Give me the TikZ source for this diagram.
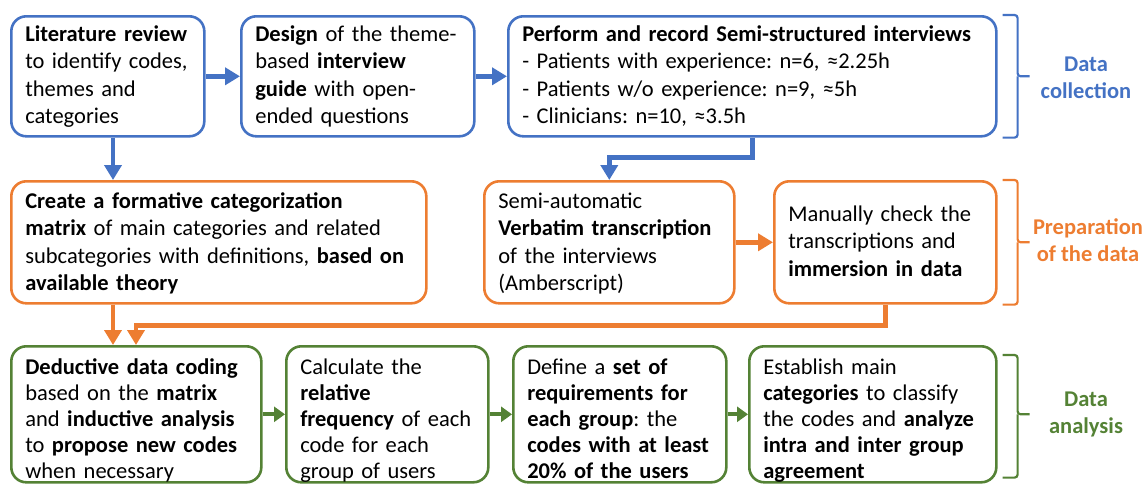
\documentclass[tikz,border=0pt]{standalone}
\usepackage{fontspec}
\setmainfont{Carlito}
\usetikzlibrary{arrows.meta}
\usetikzlibrary{positioning}
\definecolor{collect}{RGB}{68,114,196}
\definecolor{prep}{RGB}{237,125,49}
\definecolor{anal}{RGB}{84,130,53}
\newcommand{\stagefont}{\fontsize{22.5pt}{27.5pt}\selectfont\frenchspacing}
\newcommand{\lowfont}{\fontsize{22.5pt}{26pt}\selectfont\frenchspacing}
\newcommand{\phasefont}{\fontsize{22.5pt}{27pt}\selectfont}

\begin{document}
\begin{tikzpicture}[x=1pt,y=1pt,
	stage/.style={draw,fill=white,rounded corners=15pt,line width=2.6pt,
		align=left,anchor=north west,inner xsep=14pt,inner ysep=0pt,font=\stagefont},
	toprow/.style={stage,draw=collect,text height=25pt,text depth=95pt},
	midrow/.style={stage,draw=prep,text height=27pt,text depth=95pt},
	lowrow/.style={stage,draw=anal,text height=28pt,text depth=108pt,font=\lowfont},
	flow/.style={line width=4.5pt,-{Triangle[length=15pt,width=17pt]}},
	shortflow/.style={line width=4pt,color=anal,-{Triangle[length=11pt,width=15pt]}},
	bracket/.style={line width=2.2pt,rounded corners=3pt},
	phase/.style={font=\phasefont\bfseries,align=center}]
	\useasboundingbox (0,0) rectangle (1148,-483);
	
	% data collection
	\node[toprow,text width=165pt] (lit) at (10,-15)
		{\textbf{Literature review}\\to identify codes,\\themes and\\categories};
	\node[toprow,text width=205pt] (design) at (240,-15)
		{\textbf{Design} of the theme-\\based \textbf{interview}\\\textbf{guide} with open-\\ended questions};
	\node[toprow,text width=460pt] (interv) at (507,-15)
		{\textbf{Perform and record Semi-structured interviews}\\- Patients with experience: n=6, ≈2.25h\\- Patients w/o experience: n=9, ≈5h\\- Clinicians: n=10, ≈3.5h};
	
	% preparation of the data
	\node[midrow,text width=387pt] (matrix) at (10,-180)
		{\textbf{Create a formative categorization}\\\textbf{matrix} of main categories and related\\subcategories with definitions, \textbf{based on}\\\textbf{available theory}};
	\node[midrow,text width=222pt] (transc) at (483,-180)
		{Semi-automatic\\\textbf{Verbatim transcription}\\of the interviews\\(Amberscript)};
	\node[midrow,text width=194pt,text height=40pt,text depth=82pt] (check) at (773,-180)
		{Manually check the\\transcriptions and\\\textbf{immersion in data}};
	
	% data analysis
	\node[lowrow,text width=222pt] (coding) at (10,-345)
		{\textbf{Deductive data coding}\\based on the \textbf{matrix}\\and \textbf{inductive analysis}\\to \textbf{propose new codes}\\when necessary};
	\node[lowrow,text width=174pt] (freq) at (285,-345)
		{Calculate the\\\textbf{relative}\\\textbf{frequency} of each\\code for each\\group of users};
	\node[lowrow,text width=185pt] (reqs) at (512,-345)
		{Define a \textbf{set of}\\\textbf{requirements for}\\\textbf{each group}: the\\\textbf{codes with at least}\\\textbf{20\% of the users}};
	\node[lowrow,text width=219pt] (cats) at (748,-345)
		{Establish main\\\textbf{categories} to classify\\the codes and \textbf{analyze}\\\textbf{intra and inter group}\\\textbf{agreement}};
	
	\coordinate (drop) at (113,0);
	\coordinate (merge) at (136,0);
	
	\draw[flow,collect] (lit) -- (design);
	\draw[flow,collect] (design) -- (interv);
	\draw[flow,collect] (lit.south -| drop) -- (matrix.north -| drop);
	\draw[flow,collect] (interv.south) -- ++(0,-20) -| (transc.north);
	\draw[flow,prep] (transc) -- (check);
	\draw[flow,prep] (matrix.south -| drop) -- (coding.north -| drop);
	\draw[flow,prep] (check.south) -- ++(0,-21) -| (coding.north -| merge);
	\draw[shortflow] (coding) -- (freq);
	\draw[shortflow] (freq) -- (reqs);
	\draw[shortflow] (reqs) -- (cats);
	
	% brackets and phase names
	\draw[bracket,collect] ([xshift=5pt]interv.north east) -| ([xshift=20pt]interv.east) -- ++(12,0);
	\draw[bracket,collect] ([xshift=5pt]interv.south east) -| ([xshift=20pt]interv.east);
	\draw[bracket,prep] ([xshift=5pt]check.north east) -| ([xshift=20pt]check.east) -- ++(12,0);
	\draw[bracket,prep] ([xshift=5pt]check.south east) -| ([xshift=20pt]check.east);
	\draw[bracket,anal] ([xshift=5pt,yshift=-10pt]cats.north east) -| ([xshift=20pt]cats.east) -- ++(12,0);
	\draw[bracket,anal] ([xshift=5pt,yshift=6pt]cats.south east) -| ([xshift=20pt]cats.east);
	
	\node[phase,collect] (collectlbl) at (1086,-78) {Data\\collection};
	\node[phase,prep] (preplbl) at (1088,-240) {Preparation\\of the data};
	\node[phase,anal] (anallbl) at (1086,-414) {Data\\analysis};
\end{tikzpicture}
\end{document}
